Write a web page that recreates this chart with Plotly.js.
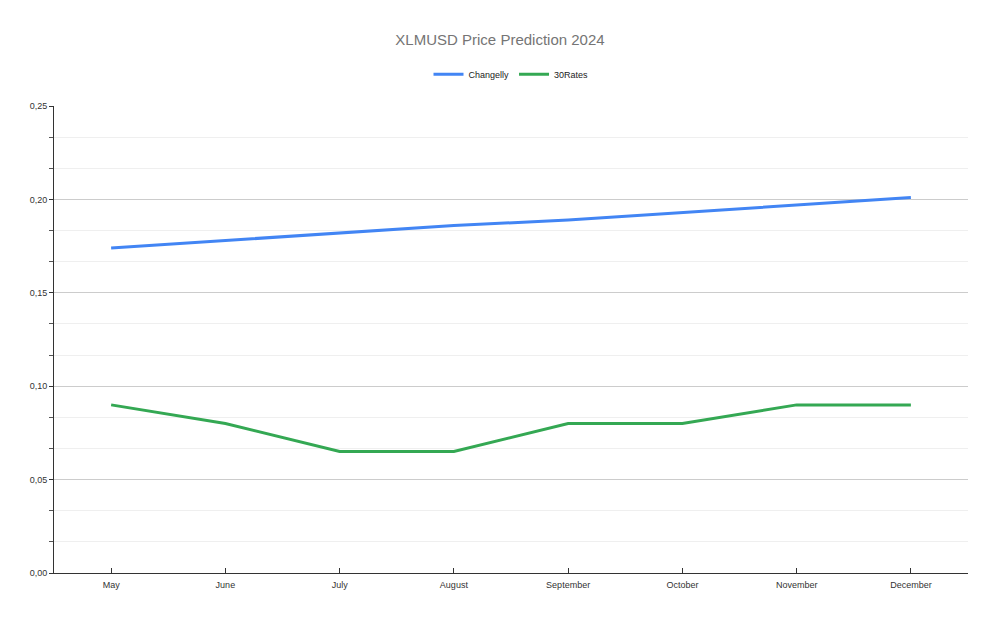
<!DOCTYPE html>
<html>
<head>
<meta charset="utf-8">
<script src="https://cdn.plot.ly/plotly-3.0.1.min.js"></script>
<style>
  html, body { margin: 0; padding: 0; background: #fff; }
  #chart { width: 1000px; height: 617px; }
</style>
</head>
<body>
<div id="chart"></div>
<script>
var months = ['May', 'June', 'July', 'August', 'September', 'October', 'November', 'December'];
var changelly = [0.174, 0.178, 0.182, 0.186, 0.189, 0.193, 0.197, 0.201];
var rates30 = [0.09, 0.08, 0.065, 0.065, 0.08, 0.08, 0.09, 0.09];
var yTicks = [0, 0.05, 0.10, 0.15, 0.20, 0.25];

var changellyTrace = {
  name: 'Changelly',
  x: months,
  y: changelly,
  mode: 'lines',
  type: 'scatter',
  line: { color: '#4285f4', width: 3 },
};

var ratesTrace = {
  name: '30Rates',
  x: months,
  y: rates30,
  mode: 'lines',
  type: 'scatter',
  line: { color: '#34a853', width: 3 },
};

var layout = {
  width: 1000,
  height: 617,
  separators: ',.',
  font: { family: 'Liberation Sans, Arial, sans-serif', size: 9, color: '#333' },
  paper_bgcolor: '#fff',
  plot_bgcolor: '#fff',
  margin: { l: 54, r: 32, t: 106, b: 44 },
  title: {
    text: 'XLMUSD Price Prediction 2024',
    font: { size: 15, color: '#757575' },
    x: 0.5,
    xanchor: 'center',
    y: 0.935,
    yanchor: 'middle',
  },
  showlegend: true,
  legend: {
    orientation: 'h',
    x: 0.5,
    xanchor: 'center',
    y: 1.068,
    yanchor: 'middle',
    font: { size: 9, color: '#222' },
    itemwidth: 30,
  },
  xaxis: {
    type: 'category',
    range: [-0.5, 7.5],
    showgrid: false,
    showline: true,
    linecolor: '#333',
    linewidth: 1,
    ticks: 'inside',
    ticklen: 5,
    tickcolor: '#333',
    ticklabelstandoff: 3,
    tickfont: { size: 9, color: '#333' },
    fixedrange: true,
  },
  yaxis: {
    range: [0, 0.25],
    tickvals: yTicks,
    tickformat: '.2f',
    showline: true,
    linecolor: '#333',
    linewidth: 1,
    ticks: 'outside',
    ticklen: 4,
    tickcolor: '#333',
    showgrid: true,
    gridcolor: '#cccccc',
    gridwidth: 1,
    zeroline: false,
    tickfont: { size: 9, color: '#333' },
    minor: {
      dtick: 0.05 / 3,
      tick0: 0,
      showgrid: true,
      gridcolor: '#efefef',
      gridwidth: 1,
      ticks: 'outside',
      ticklen: 4,
      tickcolor: '#555',
    },
    fixedrange: true,
  },
  hovermode: 'closest',
};

Plotly.newPlot('chart', [changellyTrace, ratesTrace], layout, { displayModeBar: false, staticPlot: true });
</script>
</body>
</html>
